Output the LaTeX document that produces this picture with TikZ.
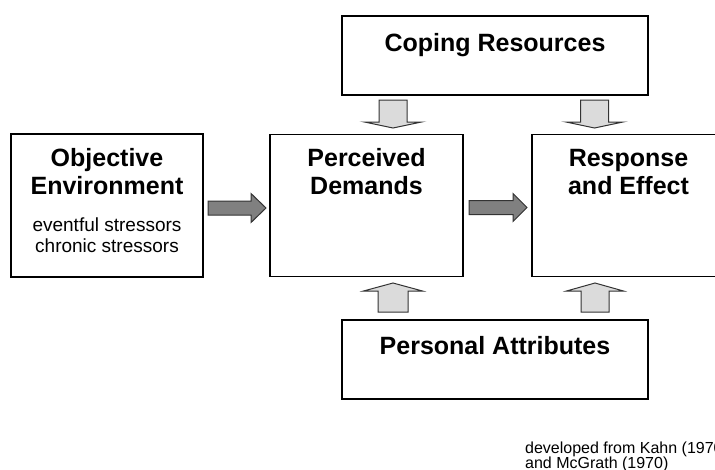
\documentclass[tikz,border=0pt]{standalone}
\usepackage{fontspec}
\setmainfont{Liberation Sans}
\begin{document}
\begin{tikzpicture}[x=1pt,y=-1pt,
  box/.style={draw=black,line width=1.1pt,fill=white,rectangle,inner sep=0pt},
  head/.style={inner sep=0pt,anchor=base,font=\fontsize{25}{29}\selectfont\bfseries},
  sub/.style={inner sep=0pt,anchor=base,font=\fontsize{19}{22}\selectfont},
  note/.style={inner sep=0pt,anchor=base west,font=\fontsize{16}{15}\selectfont},
  darkarr/.style={draw=black!80,line width=1pt,fill=black!50,line join=miter},
  lightarr/.style={draw=black!80,line width=1pt,fill=black!14,line join=miter}]
\useasboundingbox (0,0) rectangle (715,469);
\clip (0,0) rectangle (715,469);
% block arrow: style, x, y (tail centre), rotation, length, shaft half, head half, head length
\newcommand\blockarr[8]{%
  \draw[#1,shift={(#2,#3)},rotate=#4]
    (0,-#6) -- ({#5-#8},-#6) -- ({#5-#8},-#7) -- (#5,0) -- ({#5-#8},#7) -- ({#5-#8},#6) -- (0,#6) -- cycle;}
% boxes
\node[box,minimum width=192pt,minimum height=143pt] (obj) at (107,205.5) {};
\node[box,minimum width=193pt,minimum height=142pt] (per) at (366.5,205.5) {};
\node[box,minimum width=193pt,minimum height=142pt] (res) at (628.5,205.5) {};
\node[box,minimum width=306pt,minimum height=79pt] (cop) at (495,55.5) {};
\node[box,minimum width=306pt,minimum height=79pt] (pa) at (495,359.5) {};
% texts
\node[head] (t1) at (107,166) {Objective};
\node[head] (t2) at (107,194) {Environment};
\node[sub] (t3) at (107,231) {eventful stressors};
\node[sub] (t4) at (107,252) {chronic stressors};
\node[head] (t5) at (366.5,166) {Perceived};
\node[head] (t6) at (366.5,194) {Demands};
\node[head] (t7) at (628.5,166) {Response};
\node[head] (t8) at (628.5,194) {and Effect};
\node[head] (t9) at (495,51) {Coping Resources};
\node[head] (t10) at (495,354) {Personal Attributes};
\node[note] (n1) at (525,453) {developed from Kahn (1970)};
\node[note] (n2) at (525,468) {and McGrath (1970)};
% arrows
\blockarr{darkarr}{208}{208}{0}{58}{7}{14.5}{15}
\blockarr{darkarr}{469}{207.5}{0}{58}{7}{14}{14}
\blockarr{lightarr}{393}{100}{-90}{28}{14}{28.5}{6}
\blockarr{lightarr}{594.5}{100}{-90}{28}{14}{28.5}{6}
\blockarr{lightarr}{393}{312}{90}{29}{15}{29.5}{8}
\blockarr{lightarr}{595}{312}{90}{29}{14}{28.5}{8}
\end{tikzpicture}
\end{document}
